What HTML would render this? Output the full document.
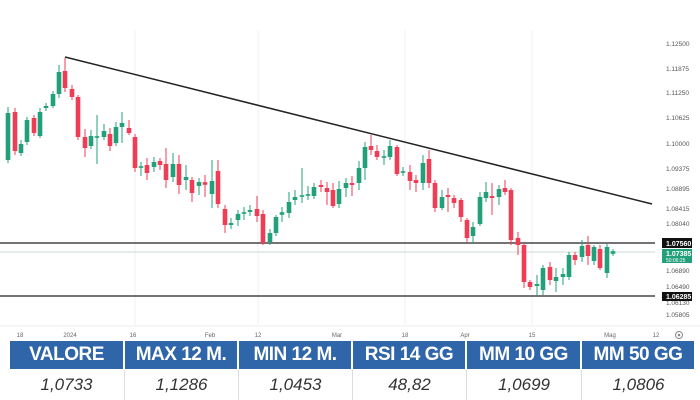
<!DOCTYPE html>
<html><head><meta charset="utf-8"><style>
body{margin:0;background:#fff;width:700px;height:400px;overflow:hidden;font-family:"Liberation Sans",sans-serif}
svg{position:absolute;left:0;top:0}
.hdr{position:absolute;top:341px;height:28px;background:#2f65a9;color:#fff;font-weight:bold;font-size:19px;text-align:center;line-height:28px;letter-spacing:-0.5px}
.val{position:absolute;top:370px;height:30px;color:#333;font-style:italic;font-size:17px;text-align:center;line-height:30px;border-left:1px solid #ddd}
</style></head><body>
<svg id="s" width="700" height="400"></svg>
<div class="hdr" style="left:10px;width:113px">VALORE</div>
<div class="hdr" style="left:125px;width:112px">MAX 12 M.</div>
<div class="hdr" style="left:239px;width:112px">MIN 12 M.</div>
<div class="hdr" style="left:353px;width:112px">RSI 14 GG</div>
<div class="hdr" style="left:467px;width:113px">MM 10 GG</div>
<div class="hdr" style="left:582px;width:112px">MM 50 GG</div>
<div class="val" style="left:10px;width:113px;border-left:none">1,0733</div>
<div class="val" style="left:124px;width:113px">1,1286</div>
<div class="val" style="left:238px;width:113px">1,0453</div>
<div class="val" style="left:352px;width:113px">48,82</div>
<div class="val" style="left:466px;width:114px">1,0699</div>
<div class="val" style="left:581px;width:113px">1,0806</div>
<script>
var c=[[8,160,113,107,163],[15,112,151,108,155],[21,153,144,140,156],[27,142,120,117,145],[34,118,133,115,136],[40,136,112,108,138],[46,108,106,103,111],[53,106,94,91,108],[59,94,72,65,98],[65,71,88,58,92],[72,89,97,85,100],[78,97,137,95,140],[85,137,148,129,157],[91,146,136,130,149],[97,137,137,115,164],[104,137,131,124,140],[110,134,146,128,151],[116,143,127,122,146],[122,127,123,112,143],[129,128,133,120,135],[135,137,168,134,172],[141,167,167,162,176],[147,165,173,158,180],[154,167,162,157,172],[160,161,165,158,170],[166,164,180,148,188],[173,177,164,153,182],[179,164,185,155,194],[186,180,177,165,190],[192,180,193,177,202],[199,186,182,178,195],[205,183,184,175,197],[212,194,181,160,208],[218,171,204,160,208],[225,209,225,205,233],[231,225,223,218,229],[238,220,214,210,226],[244,213,213,207,220],[250,212,210,205,216],[257,209,216,196,222],[263,214,243,210,245],[270,242,233,229,245],[276,233,217,215,236],[282,214,213,207,222],[289,213,202,192,218],[295,200,197,190,205],[302,196,196,168,203],[308,195,195,186,200],[314,196,187,183,199],[321,185,187,180,192],[327,188,192,182,205],[333,190,206,183,208],[339,204,189,181,208],[346,188,183,178,197],[352,183,185,176,196],[359,183,168,161,190],[365,168,147,142,180],[371,146,150,135,155],[377,151,157,145,160],[384,157,157,150,165],[390,157,146,140,160],[397,147,174,145,176],[403,172,172,167,176],[410,172,181,165,190],[416,180,183,175,192],[423,183,163,155,190],[429,159,183,150,188],[435,183,208,180,212],[442,208,197,190,210],[448,195,197,188,212],[454,198,203,195,208],[461,200,217,198,222],[467,220,238,218,242],[473,236,227,222,243],[480,224,197,192,226],[486,198,192,182,202],[492,196,198,183,215],[499,197,189,185,205],[505,188,192,180,195],[511,190,240,188,245],[518,238,245,232,255],[524,245,282,243,288],[530,282,287,280,290],[537,286,284,275,295],[543,290,268,265,295],[550,267,280,262,285],[556,281,277,268,292],[563,277,274,268,285],[569,277,255,252,280],[575,255,260,252,265],[582,257,246,240,262],[588,245,256,236,265],[594,261,247,245,265],[600,249,268,245,270],[607,273,247,244,278],[613,253,252,249,256]];
var h='';
[135,258,405,532].forEach(x=>h+=`<line x1="${x}" y1="30" x2="${x}" y2="325" stroke="#f0f2f5"/>`);
h+='<line x1="0" y1="252" x2="655" y2="252" stroke="#cfd8d6" stroke-width="1"/>';
h+='<line x1="0" y1="243" x2="655" y2="243" stroke="#222" stroke-width="1.3"/>';
h+='<line x1="0" y1="296" x2="655" y2="296" stroke="#222" stroke-width="1.3"/>';
h+='<line x1="65" y1="57" x2="652" y2="204" stroke="#222" stroke-width="1.5"/>';
c.forEach(d=>{var g=d[2]<=d[1],col=g?'#22a07a':'#ef3d55';var t=Math.min(d[1],d[2]),b=Math.max(d[1],d[2]);if(b-t<1.5){t-=0.8;b+=0.8}
h+=`<line x1="${d[0]}" y1="${d[3]}" x2="${d[0]}" y2="${d[4]}" stroke="${col}" stroke-width="1"/><rect x="${d[0]-2.3}" y="${t}" width="4.6" height="${b-t}" fill="${col}"/>`});
var yl=[['1.12500',44],['1.11875',69],['1.11250',93],['1.10625',118],['1.10000',144],['1.09375',169],['1.08895',189],['1.08415',209],['1.08040',224],['1.06890',271],['1.06490',287],['1.06130',303],['1.05805',315]];
yl.forEach(l=>h+=`<text x="666" y="${l[1]+2}" font-size="6.5" fill="#555">${l[0]}</text>`);
h+='<rect x="662" y="238" width="30" height="10" fill="#111"/><text x="666" y="246" font-size="7" fill="#fff" font-weight="bold">1.07560</text>';
h+='<rect x="662" y="249" width="30" height="14" fill="#22a07a"/><text x="666" y="256" font-size="7" fill="#fff" font-weight="bold">1.07385</text><text x="666" y="262" font-size="5" fill="#fff">50:06:25</text>';
h+='<rect x="662" y="292" width="30" height="9" fill="#111"/><text x="666" y="299" font-size="7" fill="#fff" font-weight="bold">1.06285</text>';
h+='<line x1="0" y1="326" x2="700" y2="326" stroke="#eee"/>';
[['18',20],['2024',70],['16',133],['Feb',210],['12',258],['Mar',337],['18',405],['Apr',465],['15',532],['Mag',610],['12',656]].forEach(l=>h+=`<text x="${l[1]}" y="337" font-size="6" fill="#666" text-anchor="middle">${l[0]}</text>`);
h+='<circle cx="679" cy="335" r="3.5" fill="none" stroke="#888"/><circle cx="679" cy="335" r="1.3" fill="#888"/>';
document.getElementById('s').innerHTML=h;
</script>
</body></html>
